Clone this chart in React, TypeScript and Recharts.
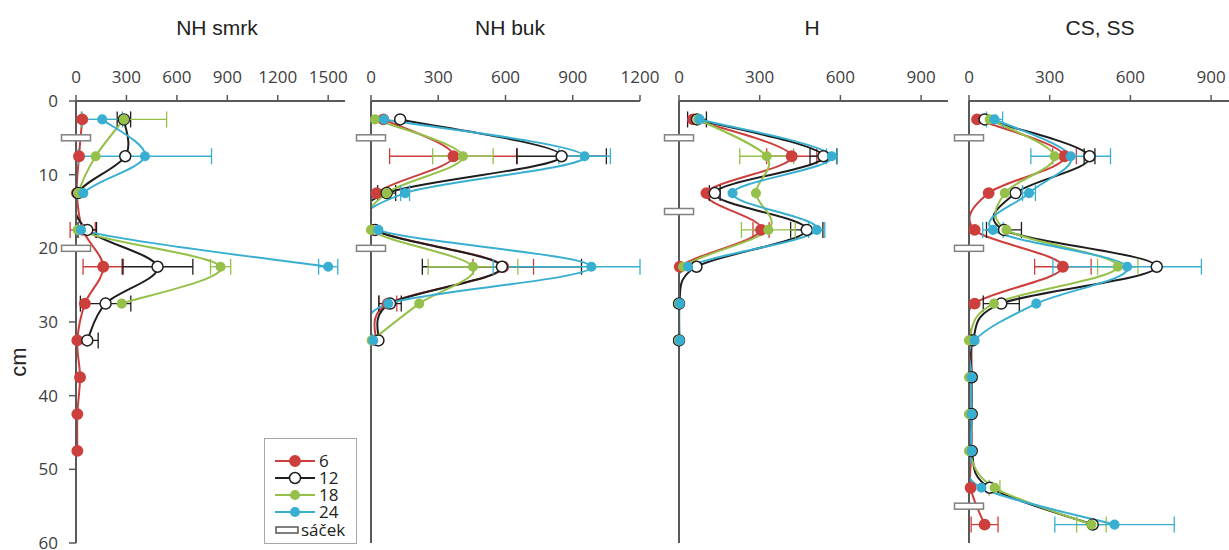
import React from "react";
import { ComposedChart, Line, XAxis, YAxis, ErrorBar, ReferenceDot, Legend } from "recharts";

const depths = [2.5, 7.5, 12.5, 17.5, 22.5, 27.5, 32.5, 37.5, 42.5, 47.5, 52.5, 57.5];
const depthTicks = [0, 10, 20, 30, 40, 50, 60];
const seriesNames = ["6", "12", "18", "24"];

// NH smrk
const smrk6 = [37, 18, 5, 40, 162, 53, 8, 24, 8, 8];
const smrk6Err = [null, null, null, 75, 120, null, null, null, null, null];
const smrk12 = [285, 293, 12, 67, 485, 176, 67];
const smrk12Err = [40, null, null, 55, 210, 150, 65];
const smrk18 = [285, 117, 16, 10, 860, 272];
const smrk18Err = [254, null, null, null, 60, null];
const smrk24 = [156, 410, 44, 30, 1500];
const smrk24Err = [120, 396, null, null, 57];
const smrkBags = [5, 20];
const smrkTicks = [0, 300, 600, 900, 1200, 1500];

// NH buk (the 24 bar at 22.5 cm runs off the axis end)
const buk6 = [55, 368, 25, 15, 590, 75, 20];
const buk6Err = [null, 285, null, null, 135, 40, null];
const buk12 = [130, 850, 70, 18, 584, 85, 33];
const buk12Err = [null, 200, 40, null, 355, 50, null];
const buk18 = [18, 410, 70, 0, 455, 215, 3];
const buk18Err = [null, 135, null, null, 200, null, null];
const buk24 = [58, 953, 152, 33, 983, 77, 10];
const buk24Err = [null, 115, 20, null, [438, 217], null, null];
const bukBags = [5, 20];
const bukTicks = [0, 300, 600, 900, 1200];

// H
const h6 = [52, 419, 102, 305, 3, 0, 0];
const h6Err = [null, 93, null, 30, null, null, null];
const h12 = [67, 537, 133, 475, 65, 0, 0];
const h12Err = [35, 50, 20, 60, null, null, null];
const h18 = [71, 326, 286, 332, 15, 0, 0];
const h18Err = [null, 100, null, 100, null, null, null];
const h24 = [77, 568, 199, 512, 34, 3, 3];
const h24Err = [null, 20, null, 30, null, null, null];
const hBags = [5, 15];
const hTicks = [0, 300, 600, 900];

// CS, SS
const cs6 = [30, 355, 73, 21, 349, 21, 10, 10, 10, 10, 6, 58];
const cs6Err = [null, 44, null, null, 105, null, null, null, null, null, null, 50];
const cs12 = [58, 448, 173, 130, 698, 120, 14, 10, 10, 10, 77, 460];
const cs12Err = [null, 20, null, 65, null, 67, null, null, null, null, null, null];
const cs18 = [77, 318, 133, 139, 553, 93, 0, 0, 0, 0, 95, 455];
const cs18Err = [null, null, null, null, 75, null, null, null, null, null, 20, 55];
const cs24 = [95, 378, 223, 89, 588, 250, 21, 10, 10, 10, 46, 541];
const cs24Err = [30, 148, 24, 38, 276, null, null, null, null, null, null, 222];
const csBags = [5, 20, 55];
const csTicks = [0, 300, 600, 900];

const RED = "#cc3f3c";
const BLACK = "#1e1e1e";
const GREEN = "#95c04a";
const BLUE = "#38afd1";
const AXIS = "#595959";
const FONT = "'Open Sans', sans-serif";
const TITLE_FONT = "'Liberation Sans', Arial, sans-serif";

const seriesStyle = [
  { color: RED, r: 5.2, fill: RED },
  { color: BLACK, r: 5.5, fill: "#ffffff" },
  { color: GREEN, r: 4.3, fill: GREEN },
  { color: BLUE, r: 4.3, fill: BLUE },
];

const panels = [
  { title: "NH smrk", values: [smrk6, smrk12, smrk18, smrk24], errors: [smrk6Err, smrk12Err, smrk18Err, smrk24Err], bags: smrkBags, ticks: smrkTicks, max: 1600, left: 0, yWidth: 76, titleX: 217 },
  { title: "NH buk", values: [buk6, buk12, buk18, buk24], errors: [buk6Err, buk12Err, buk18Err, buk24Err], bags: bukBags, ticks: bukTicks, max: 1200, left: 341, yWidth: 30, titleX: 510 },
  { title: "H", values: [h6, h12, h18, h24], errors: [h6Err, h12Err, h18Err, h24Err], bags: hBags, ticks: hTicks, max: 1000, left: 649, yWidth: 30, titleX: 812 },
  { title: "CS, SS", values: [cs6, cs12, cs18, cs24], errors: [cs6Err, cs12Err, cs18Err, cs24Err], bags: csBags, ticks: csTicks, max: 1000, left: 939, yWidth: 30, titleX: 1100 },
];

// Excel-like smoothing (Catmull-Rom through the points)
function smoothCurve(context: any) {
  let pts: number[][] = [];
  return {
    areaStart() {},
    areaEnd() {},
    lineStart() { pts = []; },
    point(x: number, y: number) { pts.push([+x, +y]); },
    lineEnd() {
      if (!pts.length) return;
      context.moveTo(pts[0][0], pts[0][1]);
      for (let i = 0; i < pts.length - 1; i++) {
        const p0 = pts[i - 1] || pts[i];
        const p1 = pts[i];
        const p2 = pts[i + 1];
        const p3 = pts[i + 2] || p2;
        context.bezierCurveTo(
          p1[0] + (p2[0] - p0[0]) / 6, p1[1] + (p2[1] - p0[1]) / 6,
          p2[0] - (p3[0] - p1[0]) / 6, p2[1] - (p3[1] - p1[1]) / 6,
          p2[0], p2[1]
        );
      }
    },
  };
}

const Bag = (props: any) => (
  <rect x={props.cx - 14.5} y={props.cy - 3} width={29} height={6} fill="#fff" stroke="#808080" strokeWidth={1.5} />
);

const LegendBox = () => (
  <div style={{ border: "1px solid #a6a6a6", background: "#fff", padding: "13px 4px 6px 10px", fontFamily: FONT, fontSize: 17, color: "#222", lineHeight: "17px", boxSizing: "border-box", width: 93, height: 106 }}>
    {seriesNames.map((n, i) => (
      <div key={n} style={{ display: "flex", alignItems: "center", height: 17 }}>
        <svg width={42} height={14}>
          <line x1={0} y1={7} x2={40} y2={7} stroke={seriesStyle[i].color} strokeWidth={2} />
          <circle cx={20} cy={7} r={seriesStyle[i].r} fill={seriesStyle[i].fill} stroke={seriesStyle[i].color} strokeWidth={1.5} />
        </svg>
        <span style={{ marginLeft: 2 }}>{n}</span>
      </div>
    ))}
    <div style={{ display: "flex", alignItems: "center", height: 19 }}>
      <svg width={42} height={14}>
        <rect x={1} y={4} width={22} height={6} fill="#fff" stroke="#555" strokeWidth={1.5} />
      </svg>
      <span style={{ marginLeft: -16 }}>sáček</span>
    </div>
  </div>
);

function Panel({ p, index }: { p: any; index: number }) {
  const data = depths.map((depth, i) => {
    const row: any = { depth };
    for (let s = 0; s < 4; s++) {
      row["v" + s] = p.values[s][i] ?? null;
      row["e" + s] = p.errors[s][i] ?? null;
    }
    return row;
  });
  const right = 25;
  const width = p.yWidth + 269 + right;
  return (
    <div style={{ position: "absolute", left: p.left, top: 0 }}>
      <ComposedChart layout="vertical" width={width} height={550} data={data} margin={{ top: 0, right, bottom: 7, left: 0 }}>
        <XAxis
          type="number"
          orientation="top"
          domain={[0, p.max]}
          ticks={p.ticks}
          allowDataOverflow
          height={101}
          tickSize={6}
          tickMargin={12}
          axisLine={{ stroke: AXIS, strokeWidth: 2 }}
          tickLine={{ stroke: AXIS, strokeWidth: 1.5 }}
          tick={{ fill: "#404040", fontSize: 17, fontFamily: FONT }}
          interval={0}
        />
        <YAxis
          type="number"
          dataKey="depth"
          domain={[0, 60]}
          ticks={depthTicks}
          width={p.yWidth}
          tickSize={7}
          tickMargin={11}
          axisLine={{ stroke: AXIS, strokeWidth: 2 }}
          tickLine={{ stroke: AXIS, strokeWidth: 1.5 }}
          tick={index === 0 ? { fill: "#404040", fontSize: 17, fontFamily: FONT } : false}
          interval={0}
        />
        {p.bags.map((d: number) => (
          <ReferenceDot key={d} x={0} y={d} r={0} shape={Bag} ifOverflow="visible" />
        ))}
        {seriesStyle.map((s, i) => (
          <Line
            key={i}
            dataKey={"v" + i}
            name={seriesNames[i]}
            type={smoothCurve as any}
            stroke={s.color}
            strokeWidth={2}
            dot={{ r: s.r, fill: s.fill, stroke: s.color, strokeWidth: 1.5, clipDot: false }}
            activeDot={false}
            isAnimationActive={false}
          >
            <ErrorBar dataKey={"e" + i} direction="x" width={8} stroke={s.color} strokeWidth={1.3} isAnimationActive={false} />
          </Line>
        ))}
        {index === 0 && (
          <Legend
            layout="vertical"
            align="center"
            verticalAlign="middle"
            content={<LegendBox />}
            wrapperStyle={{ position: "absolute", left: 264, top: 438, width: 93, height: 106 }}
          />
        )}
      </ComposedChart>
    </div>
  );
}

export default function App() {
  return (
    <div style={{ position: "absolute", left: 0, top: 0, width: 1229, height: 550, overflow: "hidden", background: "#fff" }}>
      {panels.map((p, i) => (
        <Panel key={p.title} p={p} index={i} />
      ))}
      {panels.map((p) => (
        <div key={p.title + "t"} style={{ position: "absolute", left: p.titleX - 100, top: 15, width: 200, textAlign: "center", fontFamily: TITLE_FONT, fontSize: 21, color: "#222", lineHeight: "26px" }}>
          {p.title}
        </div>
      ))}
      <div style={{ position: "absolute", left: 19 - 20, top: 362 - 13, width: 40, height: 26, textAlign: "center", transform: "rotate(-90deg)", fontFamily: TITLE_FONT, fontSize: 22, color: "#222", lineHeight: "26px" }}>
        cm
      </div>
    </div>
  );
}
